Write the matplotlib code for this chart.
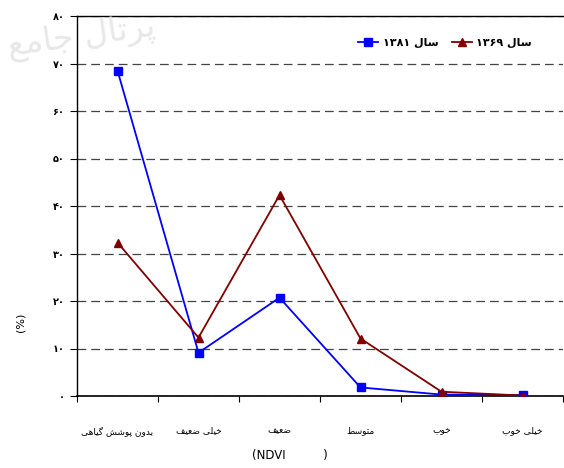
import matplotlib
matplotlib.use("Agg")
import matplotlib.pyplot as plt
from matplotlib.ticker import FixedLocator, NullFormatter

# ---------------------------------------------------------------------------
# data
# ---------------------------------------------------------------------------
CATEGORIES = ["بدون پوشش گیاهی", "خیلی ضعیف", "ضعیف", "متوسط", "خوب", "خیلی خوب"]
Y1381 = [68.5, 9.1, 20.7, 1.8, 0.3, 0.2]
Y1369 = [32.3, 12.3, 42.3, 12.1, 0.9, 0.1]
SERIES_NAMES = ["سال ۱۳۸۱", "سال ۱۳۶۹"]
YTICKS = [0, 10, 20, 30, 40, 50, 60, 70, 80]

# ---------------------------------------------------------------------------
# tiny Persian shaper (matplotlib has no bidi / joining support)
# forms: isolated, final, initial, medial
# ---------------------------------------------------------------------------
FORMS = {
    "ا": (0xFE8D, 0xFE8E, None, None),
    "ب": (0xFE8F, 0xFE90, 0xFE91, 0xFE92),
    "پ": (0xFB56, 0xFB57, 0xFB58, 0xFB59),
    "ت": (0xFE95, 0xFE96, 0xFE97, 0xFE98),
    "ج": (0xFE9D, 0xFE9E, 0xFE9F, 0xFEA0),
    "خ": (0xFEA5, 0xFEA6, 0xFEA7, 0xFEA8),
    "د": (0xFEA9, 0xFEAA, None, None),
    "ر": (0xFEAD, 0xFEAE, None, None),
    "س": (0xFEB1, 0xFEB2, 0xFEB3, 0xFEB4),
    "ش": (0xFEB5, 0xFEB6, 0xFEB7, 0xFEB8),
    "ض": (0xFEBD, 0xFEBE, 0xFEBF, 0xFEC0),
    "ط": (0xFEC1, 0xFEC2, 0xFEC3, 0xFEC4),
    "ع": (0xFEC9, 0xFECA, 0xFECB, 0xFECC),
    "ف": (0xFED1, 0xFED2, 0xFED3, 0xFED4),
    "گ": (0xFB92, 0xFB93, 0xFB94, 0xFB95),
    "ل": (0xFEDD, 0xFEDE, 0xFEDF, 0xFEE0),
    "م": (0xFEE1, 0xFEE2, 0xFEE3, 0xFEE4),
    "ن": (0xFEE5, 0xFEE6, 0xFEE7, 0xFEE8),
    "ه": (0xFEE9, 0xFEEA, 0xFEEB, 0xFEEC),
    "و": (0xFEED, 0xFEEE, None, None),
    "ی": (0xFBFC, 0xFBFD, 0xFBFE, 0xFBFF),
}


def shape_word(word):
    out = []
    for i, ch in enumerate(word):
        if ch not in FORMS:
            out.append(ch)
            continue
        prev = word[i - 1] if i > 0 else None
        nxt = word[i + 1] if i + 1 < len(word) else None
        jp = prev in FORMS and FORMS[prev][2] is not None
        jn = nxt in FORMS and FORMS[ch][2] is not None
        iso, fin, ini, med = FORMS[ch]
        code = med if (jp and jn) else fin if jp else ini if jn else iso
        out.append(chr(code))
    return "".join(out)


def rtl(text):
    words = []
    for w in text.split(" "):
        if any(c in FORMS for c in w):
            words.append(shape_word(w)[::-1])
        else:
            words.append(w)
    return " ".join(words[::-1])


def fa_num(n):
    return str(n).translate(str.maketrans("0123456789", "۰۱۲۳۴۵۶۷۸۹"))


plt.rcParams["font.family"] = ["DejaVu Sans"]

fig = plt.figure(figsize=(5.64, 4.68), dpi=100)
ax = fig.add_axes([77 / 564, 1 - 396 / 468, 486 / 564, 380 / 468])

# faded watermark in the top-left corner
fig.text(0.01, 0.92, rtl("پرتال جامع"), fontsize=24, color="#e8e8e8",
         rotation=8, ha="left", va="center", zorder=0)

x = list(range(len(CATEGORIES)))
ax.plot(x, Y1381, color="#0000ff", lw=1.3, marker="s", ms=5.5,
        label=rtl(SERIES_NAMES[0]), zorder=3)
ax.plot(x, Y1369, color="#800000", lw=1.3, marker="^", ms=6,
        label=rtl(SERIES_NAMES[1]), zorder=4)

ax.set_xlim(-0.5, len(CATEGORIES) - 0.5)
ax.set_ylim(0, 80)
ax.set_facecolor("none")

ax.set_yticks(YTICKS)
ax.set_yticklabels([fa_num(t) for t in YTICKS], fontsize=7, fontweight="bold")
ax.yaxis.grid(True, linestyle=(0, (7, 4)), color="#444444", lw=0.9)
ax.set_axisbelow(True)

# category ticks between the groups, labels centred on each group
ax.xaxis.set_major_locator(FixedLocator([i - 0.5 for i in range(len(CATEGORIES) + 1)]))
ax.xaxis.set_major_formatter(NullFormatter())
ax.xaxis.set_minor_locator(FixedLocator(x))
ax.set_xticklabels([rtl(c) for c in CATEGORIES], minor=True, fontsize=6.5)
ax.tick_params(axis="x", which="minor", length=0, pad=22)
ax.tick_params(axis="x", which="major", length=4, width=0.8)
ax.tick_params(axis="y", length=5, width=0.8, pad=4)

ax.spines["right"].set_visible(False)
ax.spines["top"].set_linewidth(1.0)
ax.spines["left"].set_linewidth(1.0)
ax.spines["bottom"].set_linewidth(1.2)

ax.legend(ncol=2, loc="center", bbox_to_anchor=(0.757, 0.929),
          frameon=False, prop={"weight": "bold", "size": 8},
          handlelength=1.8, columnspacing=1.2, handletextpad=0.4)

fig.text(290 / 564, 1 - 455 / 468, "(NDVI          )", fontsize=8.5,
         ha="center", va="center")
fig.text(20 / 564, 1 - 322 / 468, "(%)", fontsize=8, rotation=90,
         ha="center", va="center")

fig.savefig("out.png", dpi=100)
